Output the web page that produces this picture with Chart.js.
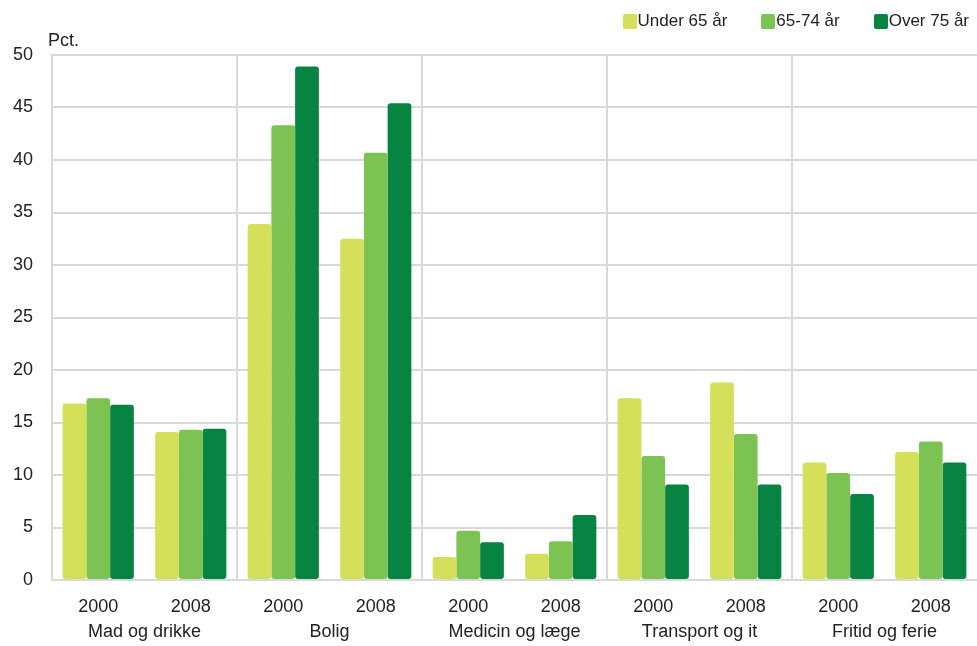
<!DOCTYPE html>
<html>
<head>
<meta charset="utf-8">
<script src="https://cdn.jsdelivr.net/npm/chart.js@4"></script>
<style>
  html, body { margin: 0; padding: 0; background: #fff; }
  #wrap { position: relative; width: 977px; height: 646px; }
  #legend {
    position: absolute; top: 11px; right: 8px;
    display: flex; line-height: 20px;
    font: 17px 'Liberation Sans', Arial, sans-serif; color: #222;
  }
  #legend .item { display: flex; align-items: center; margin-left: 34px; }
  #legend .item:first-child { margin-left: 0; }
  #legend .box { width: 14px; height: 15px; border-radius: 2px; margin-right: 1px; }
</style>
</head>
<body>
<div id="wrap">
  <canvas id="c" width="977" height="646"></canvas>
  <div id="legend"></div>
</div>
<script>
// Budget shares (pct.) by age group, two survey years per spending area
const years = ['2000', '2008', '2000', '2008', '2000', '2008', '2000', '2008', '2000', '2008'];
const groups = ['Mad og drikke', 'Bolig', 'Medicin og læge', 'Transport og it', 'Fritid og ferie'];
const seriesNames = ['Under 65 år', '65-74 år', 'Over 75 år'];

const under65 = [16.8, 14.1, 33.9, 32.5, 2.2, 2.5, 17.3, 18.8, 11.2, 12.2];
const age65to74 = [17.3, 14.3, 43.3, 40.7, 4.7, 3.7, 11.8, 13.9, 10.2, 13.2];
const over75 = [16.7, 14.4, 48.9, 45.4, 3.6, 6.2, 9.1, 9.1, 8.2, 11.2];

const seriesColors = ['#d5e05a', '#7dc353', '#078342'];
const textColor = '#222';
const gridColor = '#d9d9d9';
const fontFamily = "'Liberation Sans', Arial, sans-serif";

const yMin = 0, yMax = 50, yStep = 5;

const pctLabel = {
  id: 'pctLabel',
  afterDraw(chart) {
    const { ctx, chartArea } = chart;
    ctx.save();
    ctx.font = '18px ' + fontFamily;
    ctx.fillStyle = textColor;
    ctx.textAlign = 'left';
    ctx.textBaseline = 'alphabetic';
    ctx.fillText('Pct.', chartArea.left - 4, chartArea.top - 9);
    ctx.restore();
  }
};

const chart = new Chart(document.getElementById('c'), {
  type: 'bar',
  data: {
    labels: years,
    datasets: [under65, age65to74, over75].map((values, i) => ({
      label: seriesNames[i],
      data: values,
      backgroundColor: seriesColors[i],
      borderWidth: 0,
      borderRadius: 3,
      borderSkipped: false,
      categoryPercentage: 0.77,
      barPercentage: 1.0
    }))
  },
  options: {
    responsive: false,
    animation: false,
    layout: { padding: { top: 55, left: 0, right: 0, bottom: 0 } },
    plugins: { legend: { display: false }, tooltip: { enabled: false } },
    scales: {
      x: {
        offset: true,
        grid: {
          offset: true,
          drawTicks: false,
          lineWidth: 2,
          color: ctx => (ctx.index % 2 === 0 && ctx.index > 0 && ctx.index < years.length) ? gridColor : 'rgba(0,0,0,0)'
        },
        border: { display: false },
        ticks: { padding: 16, color: textColor, font: { family: fontFamily, size: 18 }, autoSkip: false, maxRotation: 0 },
        afterFit: s => { s.height = 36; }
      },
      x2: {
        type: 'category',
        labels: groups,
        position: 'bottom',
        offset: true,
        grid: { display: false, drawTicks: false },
        border: { display: false },
        ticks: { padding: 5, color: textColor, font: { family: fontFamily, size: 18 }, autoSkip: false, maxRotation: 0 },
        afterFit: s => { s.height = 30; }
      },
      y: {
        min: yMin,
        max: yMax,
        ticks: { stepSize: yStep, padding: 19, color: textColor, font: { family: fontFamily, size: 18 } },
        grid: { drawTicks: false, lineWidth: 2, color: gridColor },
        border: { display: true, color: gridColor, width: 2 },
        afterFit: s => { s.width = 52; }
      }
    }
  },
  plugins: [pctLabel]
});

// Legend built from the chart's datasets
const legendEl = document.getElementById('legend');
chart.data.datasets.forEach(ds => {
  const item = document.createElement('div');
  item.className = 'item';
  const box = document.createElement('span');
  box.className = 'box';
  box.style.background = ds.backgroundColor;
  const txt = document.createElement('span');
  txt.textContent = ds.label;
  item.appendChild(box);
  item.appendChild(txt);
  legendEl.appendChild(item);
});
</script>
</body>
</html>
